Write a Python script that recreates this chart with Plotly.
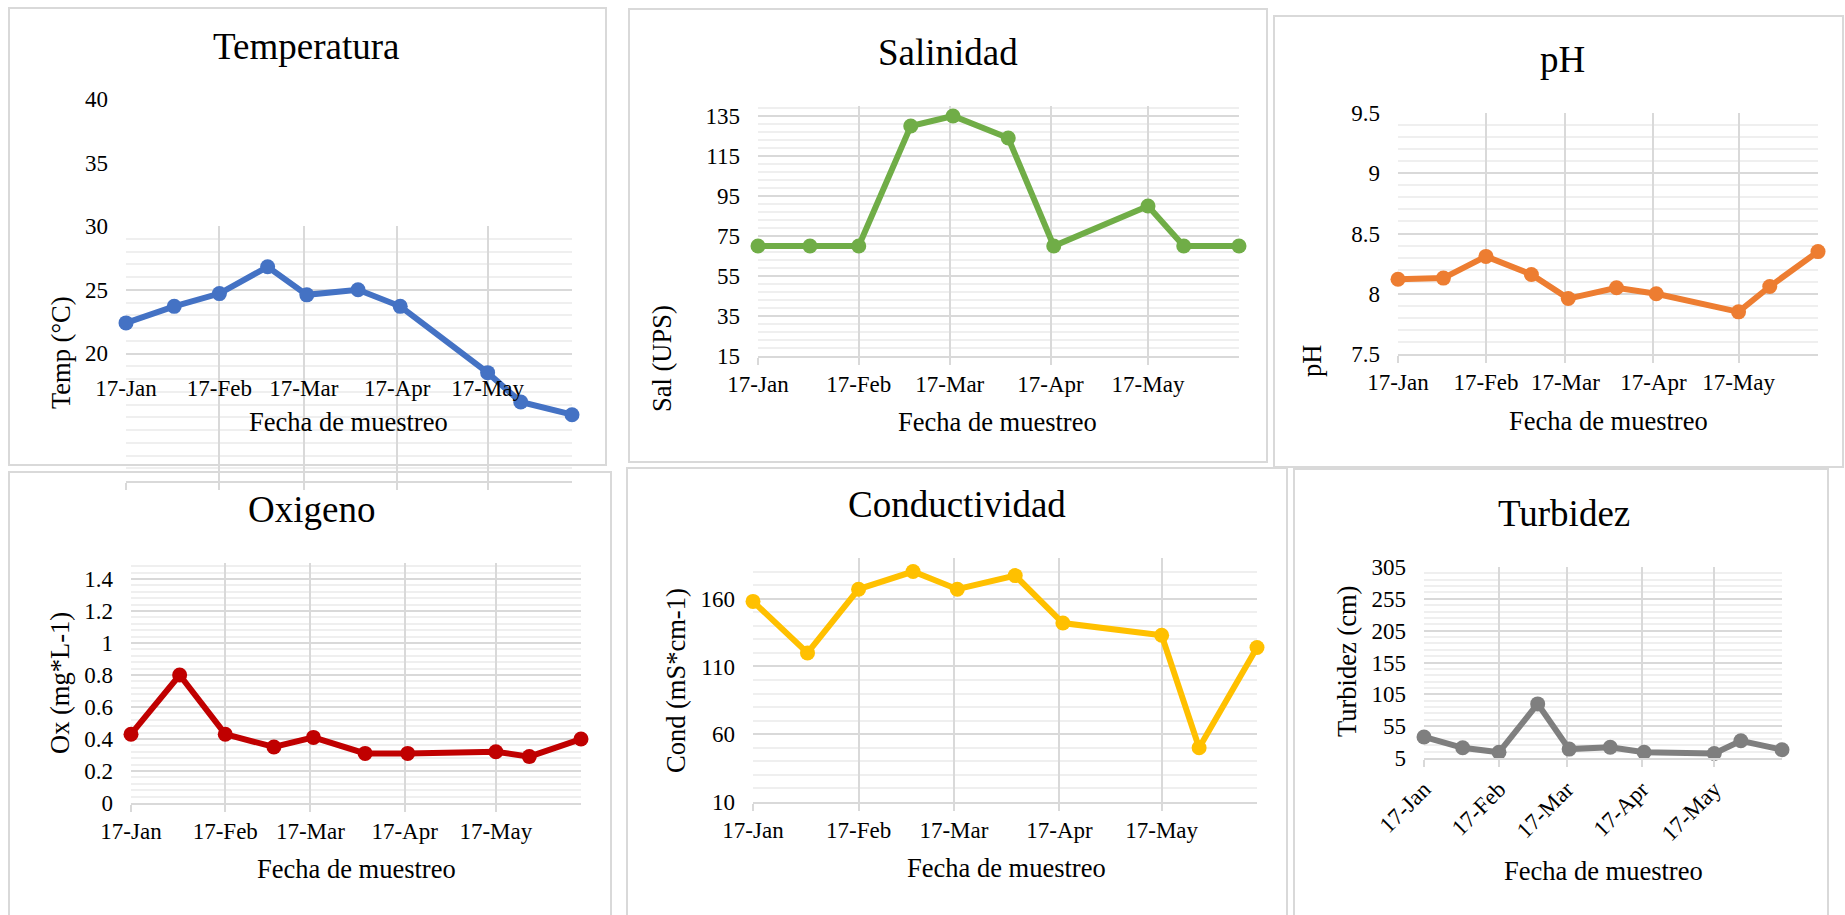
import plotly.graph_objects as go

# ---------------- data ----------------
DATES = ["2017-01-17", "2017-02-02", "2017-02-17", "2017-03-05", "2017-03-18",
         "2017-04-04", "2017-04-18", "2017-05-17", "2017-05-28", "2017-06-14"]
MONTH_TICKS = ["2017-01-17", "2017-02-17", "2017-03-17", "2017-04-17", "2017-05-17"]
MONTH_LABELS = ["17-Jan", "17-Feb", "17-Mar", "17-Apr", "17-May"]

TEMP = [22.4, 23.7, 24.7, 26.8, 24.6, 25.0, 23.7, 18.5, 16.2, 15.2]
SAL = [70, 70, 70, 130, 135, 124, 70, 90, 70, 70]
PH = [8.12, 8.13, 8.31, 8.16, 7.96, 8.05, 8.00, 7.85, 8.06, 8.35]
OX = [0.43, 0.80, 0.43, 0.35, 0.41, 0.31, 0.31, 0.32, 0.29, 0.40]
COND = [158, 120, 167, 180, 167, 177, 142, 133, 50, 124]
TURB = [38, 21, 14, 90, 19, 22, 14, 12, 32, 18]

TEMP_TICKS = [20, 25, 30, 35, 40]
SAL_TICKS = [15, 35, 55, 75, 95, 115, 135]
PH_TICKS = [7.5, 8, 8.5, 9, 9.5]
PH_LABELS = ["7.5", "8", "8.5", "9", "9.5"]
OX_TICKS = [0, 0.2, 0.4, 0.6, 0.8, 1.0, 1.2, 1.4]
OX_LABELS = ["0", "0.2", "0.4", "0.6", "0.8", "1", "1.2", "1.4"]
COND_TICKS = [10, 60, 110, 160]
TURB_TICKS = [5, 55, 105, 155, 205, 255, 305]

TITLES = ["Temperatura", "Salinidad", "pH", "Oxigeno", "Conductividad", "Turbidez"]
YTITLES = ["Temp (°C)", "Sal (UPS)", "pH", "Ox (mg*L-1)", "Cond (mS*cm-1)", "Turbidez (cm)"]
XTITLE = "Fecha de muestreo"
COLORS = ["#4472C4", "#70AD47", "#ED7D31", "#C00000", "#FFC000", "#7F7F7F"]

# ---------------- layout helpers ----------------
W, H = 1845, 915
FONT = "Liberation Serif, Times New Roman, serif"
GRID = "#D9D9D9"
MINOR = "#EFEFEF"


def fx(px):
    return px / W


def fy(py):
    return 1 - py / H


def ydom(top, bottom):
    return [fy(bottom), fy(top)]


fig = go.Figure()

series = [TEMP, SAL, PH, OX, COND, TURB]
axis_ids = ["", "2", "3", "4", "5", "6"]
for vals, color, aid in zip(series, COLORS, axis_ids):
    fig.add_trace(go.Scatter(
        x=DATES, y=vals, mode="lines+markers",
        line=dict(color=color, width=6),
        marker=dict(color=color, size=15),
        xaxis="x" + aid, yaxis="y" + aid,
        cliponaxis=False, showlegend=False, hoverinfo="skip"))

# empty trace so that the temperature label axes get their own subplot
fig.add_trace(go.Scatter(x=[], y=[], xaxis="x7", yaxis="y7", mode="markers",
                         showlegend=False, hoverinfo="skip"))

tickfont = dict(family=FONT, size=23, color="#000000")

# plot areas in pixels: left, right, top, bottom
plots = [
    (126, 572, 226, 481),   # temperatura (grid part)
    (758, 1239, 106, 356),  # salinidad
    (1398, 1818, 113, 354), # pH
    (131, 581, 563, 803),   # oxigeno
    (753, 1257, 558, 802),  # conductividad
    (1424, 1782, 567, 758), # turbidez
]
yranges = [[10, 30], [15, 140], [7.5, 9.5], [0, 1.5], [10, 190], [5, 305]]
ytick_sets = [(TEMP_TICKS, None), (SAL_TICKS, None), (PH_TICKS, PH_LABELS),
              (OX_TICKS, OX_LABELS), (COND_TICKS, None), (TURB_TICKS, None)]
minor = [(10, 1), (15, 4), (7.5, 0.1), (0, 0.04), (10, 10), (5, 10)]

layout = {}
for i, aid in enumerate(axis_ids):
    L, R, T, B = plots[i]
    xa = dict(type="date", domain=[fx(L), fx(R)], range=[DATES[0], DATES[-1]],
              tickmode="array", tickvals=MONTH_TICKS, ticktext=MONTH_LABELS,
              showgrid=True, gridcolor=GRID, gridwidth=1.5,
              ticks="outside", ticklen=7, tickcolor=GRID, tickwidth=1.5,
              showline=True, linecolor=GRID, linewidth=1.5,
              zeroline=False, tickfont=tickfont, anchor="y" + aid,
              automargin=False, fixedrange=True)
    if i == 5:
        xa["tickangle"] = -45
    tv, tt = ytick_sets[i]
    ya = dict(domain=ydom(T, B), range=yranges[i], anchor="x" + aid,
              tickmode="array", tickvals=tv,
              showgrid=True, gridcolor=GRID, gridwidth=1.5,
              minor=dict(tickmode="linear", tick0=minor[i][0], dtick=minor[i][1],
                         showgrid=True, gridcolor=MINOR, gridwidth=1.5),
              ticks="", zeroline=False, showline=False,
              tickfont=tickfont, ticklabelstandoff=17,
              automargin=False, fixedrange=True)
    if tt is not None:
        ya["ticktext"] = tt
    if i == 0:
        xa["showticklabels"] = False
        ya["showticklabels"] = False
    layout["xaxis" + aid] = xa
    layout["yaxis" + aid] = ya

# temperatura: label axes placed as in the original (labels above the grid)
layout["yaxis7"] = dict(domain=ydom(99, 372), range=[18.53, 40], anchor="x7",
                        tickmode="array", tickvals=TEMP_TICKS, showgrid=False,
                        zeroline=False, showline=False, ticks="",
                        tickfont=tickfont, ticklabelstandoff=17,
                        automargin=False, fixedrange=True)
layout["xaxis7"] = dict(type="date", domain=[fx(126), fx(572)],
                        range=[DATES[0], DATES[-1]], anchor="y7",
                        tickmode="array", tickvals=MONTH_TICKS, ticktext=MONTH_LABELS,
                        showgrid=False, zeroline=False, showline=False, ticks="",
                        tickfont=tickfont, automargin=False, fixedrange=True)

# chart-area boxes
boxes = [(9, 8, 606, 465), (629, 9, 1267, 462), (1274, 16, 1843, 467),
         (9, 472, 611, 925), (627, 468, 1287, 925), (1294, 469, 1828, 925)]
shapes = [dict(type="rect", xref="paper", yref="paper", layer="below",
               x0=fx(a), x1=fx(c), y0=fy(d), y1=fy(b),
               line=dict(color=GRID, width=2), fillcolor="rgba(0,0,0,0)")
          for a, b, c, d in boxes]

annotations = []
title_pos = [(306, 47), (948, 52), (1562, 60), (311, 509), (957, 505), (1564, 513)]
ytitle_pos = [(61, 353), (662, 359), (1312, 361), (60, 683), (676, 681), (1347, 662)]
xtitle_pos = [(348, 422), (997, 422), (1608, 421), (356, 869), (1006, 868), (1603, 871)]
for i in range(6):
    x, y = title_pos[i]
    annotations.append(dict(text=TITLES[i], x=fx(x), y=fy(y), xref="paper", yref="paper",
                            xanchor="center", yanchor="middle", showarrow=False,
                            font=dict(family=FONT, size=37, color="#000000")))
    x, y = ytitle_pos[i]
    annotations.append(dict(text=YTITLES[i], x=fx(x), y=fy(y), xref="paper", yref="paper",
                            xanchor="center", yanchor="middle", showarrow=False, textangle=-90,
                            font=dict(family=FONT, size=26.5, color="#000000")))
    x, y = xtitle_pos[i]
    annotations.append(dict(text=XTITLE, x=fx(x), y=fy(y), xref="paper", yref="paper",
                            xanchor="center", yanchor="middle", showarrow=False,
                            font=dict(family=FONT, size=26.5, color="#000000")))

fig.update_layout(
    width=W, height=H, autosize=False,
    margin=dict(l=0, r=0, t=0, b=0, pad=0, autoexpand=False),
    paper_bgcolor="#FFFFFF", plot_bgcolor="rgba(0,0,0,0)",
    font=dict(family=FONT, color="#000000"),
    shapes=shapes, annotations=annotations, showlegend=False,
    **layout)

fig.write_html("out.html", config={"displayModeBar": False},
               post_script="document.body.style.margin='0';document.body.style.overflow='hidden';")
